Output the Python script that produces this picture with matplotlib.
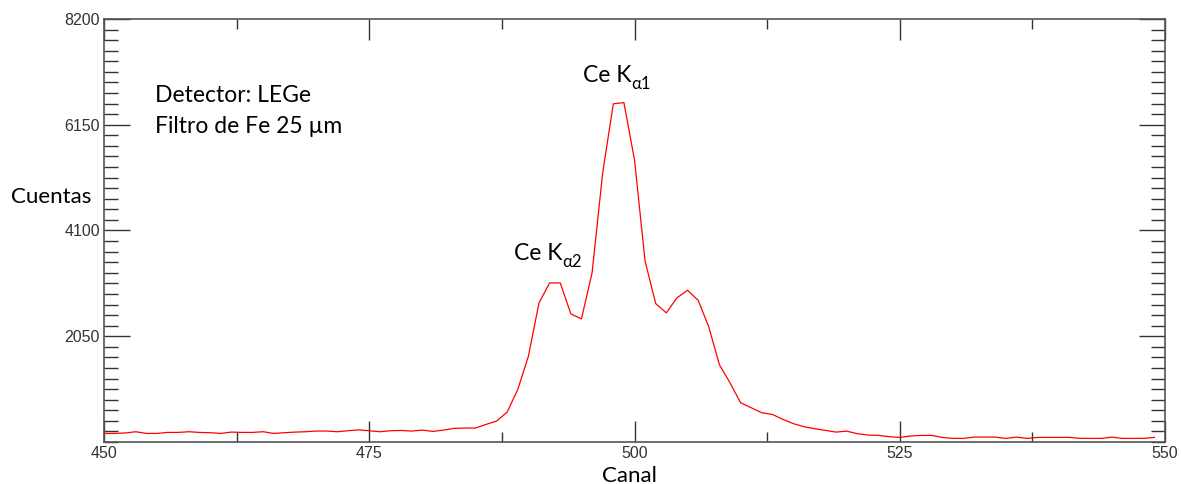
import matplotlib
matplotlib.use("Agg")
import matplotlib.pyplot as plt
from matplotlib.ticker import MultipleLocator, FixedLocator

# channel numbers and counts
canal = list(range(450, 550))
cuentas = [
    166, 166, 175, 199, 166, 166, 186, 186, 199, 186,
    180, 166, 192, 186, 186, 199, 166, 180, 192, 199,
    212, 212, 199, 219, 235, 218, 199, 218, 224, 212,
    231, 205, 231, 264, 270, 270, 341, 405, 580, 1018,
    1663, 2697, 3084, 3084, 2484, 2387, 3278, 5214, 6555, 6580,
    5471, 3502, 2683, 2503, 2794, 2941, 2747, 2232, 1500, 1148,
    761, 664, 567, 534, 437, 354, 296, 257, 225, 192,
    211, 161, 134, 128, 103, 89, 115, 128, 128, 89,
    70, 70, 95, 95, 95, 70, 95, 70, 89, 89,
    89, 89, 70, 70, 70, 95, 70, 70, 70, 89,
]

y_ticks = [2050, 4100, 6150, 8200]
x_ticks = [450, 475, 500, 525, 550]

# peak labels: (text, subscript, channel, counts)
picos = [
    ("Ce K", "\u03b11", 495.15, 7097),
    ("Ce K", "\u03b12", 488.6, 3651),
]

info_lines = ["Detector: LEGe", "Filtro de Fe 25 \u00b5m"]

text_font = ["Lato", "DejaVu Sans"]
tick_font = "Liberation Sans"

fig = plt.figure(figsize=(11.81, 4.84), dpi=100)
ax = fig.add_axes([104 / 1181, 42 / 484, 1061 / 1181, 423 / 484])

ax.plot(canal, cuentas, color="#ff0000", lw=0.9)

ax.set_xlim(450, 550)
ax.set_ylim(0, 8200)

ax.xaxis.set_major_locator(FixedLocator(x_ticks))
ax.xaxis.set_minor_locator(MultipleLocator(12.5))
ax.yaxis.set_major_locator(FixedLocator(y_ticks))
ax.yaxis.set_minor_locator(MultipleLocator(205))

ax.tick_params(axis="both", which="both", direction="in", top=True, right=True,
               color="#333333", width=1.0, pad=3, labelsize=11.5, labelcolor="#333333")
ax.tick_params(axis="x", which="major", length=15)
ax.tick_params(axis="x", which="minor", length=7.2)
ax.tick_params(axis="y", which="major", length=19)
ax.tick_params(axis="y", which="minor", length=9.8)
for lab in ax.get_xticklabels() + ax.get_yticklabels():
    lab.set_fontfamily(tick_font)

for s in ax.spines.values():
    s.set_color("#555555")
    s.set_linewidth(1.2)

ax.set_xlabel("Canal", fontsize=16, family=text_font, color="black")
ax.xaxis.set_label_coords(0.4948, -0.080)
ax.xaxis.label.set_va("center")
ax.set_ylabel("Cuentas", fontsize=16, family=text_font, color="black",
              rotation=0, ha="center", va="center")
ax.yaxis.set_label_coords(-0.05, 0.579)

for i, line in enumerate(info_lines):
    ax.text(0.048, 0.818 - i * 0.073, line, transform=ax.transAxes,
            fontsize=16.5, family=text_font, color="black", va="center", ha="left")

for main, sub, x, y in picos:
    t = ax.text(x, y, main, fontsize=16.5, family=text_font, color="black",
                ha="left", va="center")
    ax.annotate(sub, xy=(1.0, 0.12), xycoords=t, fontsize=12, family=text_font,
                color="black", ha="left", va="center")

fig.savefig("out.png", dpi=100)
